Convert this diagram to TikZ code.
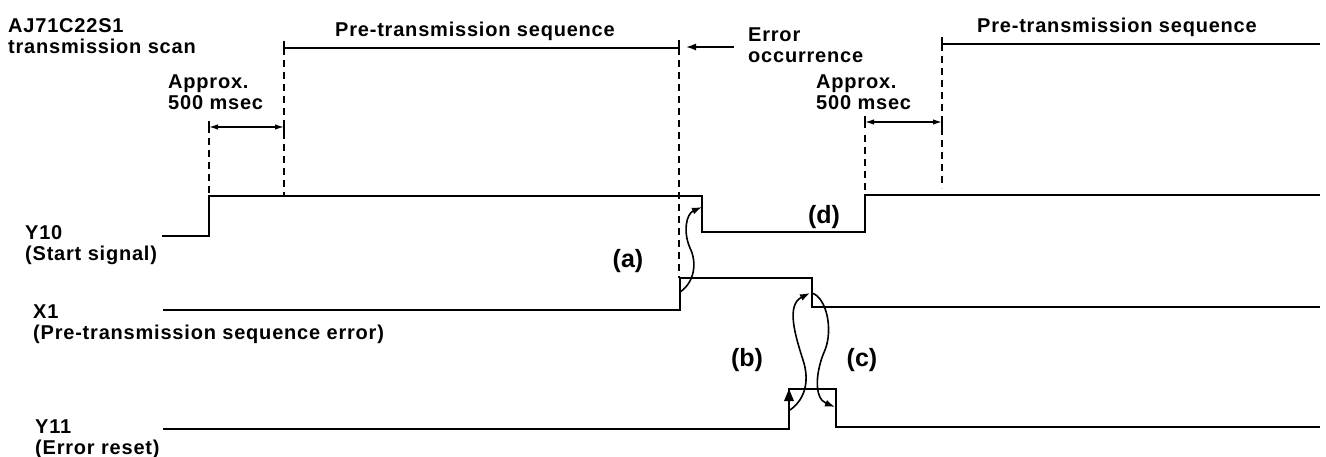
\documentclass[tikz,border=0pt]{standalone}
\usepackage{fontspec}
\setmainfont{Liberation Sans}
\newfontfamily\labfont{Liberation Sans}[LetterSpace=4]
\usetikzlibrary{arrows.meta}
\begin{document}
\begin{tikzpicture}[x=1pt,y=-1pt,
  sig/.style={line width=1.8pt},
  guide/.style={line width=1.5pt, dash pattern=on 7pt off 5pt},
  bar/.style={line width=1.4pt},
  lab/.style={inner sep=0pt, align=left, font=\labfont\bfseries\fontsize{20}{21}\selectfont},
  tag/.style={inner sep=0pt, font=\bfseries\fontsize{25}{27}\selectfont},
  tip/.style={-{Latex[length=10pt,width=7pt]}, line width=1.6pt},
  dim/.style={{Latex[length=9pt,width=5.5pt]}-{Latex[length=9pt,width=5.5pt]}, line width=1.4pt},
]
\useasboundingbox (0,0) rectangle (1326,457);

% signals
\draw[sig] (162,236) -- (209,236) -- (209,196) -- (702,196) -- (702,232) -- (865,232) -- (865,195) -- (1320,195);
\draw[sig] (163,310) -- (680,310) -- (680,278) -- (812,278) -- (812,307) -- (1320,307);
\draw[sig] (163,429) -- (789,429) -- (789,389) -- (836,389) -- (836,427) -- (1320,427);

% guide lines
\draw[guide] (209,138) -- (209,196);
\draw[guide] (284,48) -- (284,196);
\draw[guide] (679,48) -- (679,278);
\draw[guide] (865,135) -- (865,195);
\draw[guide] (942,44) -- (942,188);

% sequence bars
\draw[bar] (284,41) -- (284,55);
\draw[bar] (284,48) -- (679,48);
\draw[bar] (679,40) -- (679,55);
\draw[bar] (942,37) -- (942,51);
\draw[bar] (942,44) -- (1320,44);

% dimension arrows
\draw[bar] (209,121) -- (209,133);
\draw[bar] (284,121) -- (284,133);
\draw[dim] (209,127) -- (284,127);
\draw[bar] (865,116) -- (865,128);
\draw[bar] (942,116) -- (942,128);
\draw[dim] (865,122) -- (942,122);

% labels
\node[lab, anchor=north west] (scan) at (8,18) {AJ71C22S1\\transmission scan};
\node[lab, anchor=north] (seqL) at (475,22) {Pre-transmission sequence};
\node[lab, anchor=north] (seqR) at (1117,18) {Pre-transmission sequence};
\node[lab, anchor=north west] (err) at (748,28) {Error\\occurrence};
\node[lab, anchor=north west] (apL) at (168,75) {Approx.\\500 msec};
\node[lab, anchor=north west] (apR) at (816,75) {Approx.\\500 msec};
\node[lab, anchor=north west] (y10) at (25,225) {Y10\\(Start signal)};
\node[lab, anchor=north west] (x1) at (33,305) {X1\\(Pre-transmission sequence error)};
\node[lab, anchor=north west] (y11) at (35,420) {Y11\\(Error reset)};
\node[tag] (ta) at (628,261) {(a)};
\node[tag] (tb) at (747,360) {(b)};
\node[tag] (tc) at (862,360) {(c)};
\node[tag] (td) at (824,217) {(d)};

% error occurrence arrow
\coordinate (errA) at (734,47);
\coordinate (barEnd) at (686,47);
\draw[tip] (errA) -- (barEnd);

% edge coordinates
\coordinate (a0) at (680,292);
\coordinate (a1) at (702,207);
\coordinate (b0) at (790,410);
\coordinate (b1) at (810,293);
\coordinate (c0) at (812,293);
\coordinate (c1) at (835,407);

\draw[tip] (a0) .. controls (695,282) and (697,262) .. (690,248) .. controls (683,232) and (686,214) .. (a1);
\draw[tip] (b0) .. controls (807,398) and (809,378) .. (803,360) .. controls (795,335) and (786,305) .. (b1);
\draw[tip] (c0) .. controls (827,298) and (833,330) .. (825,350) .. controls (816,370) and (813,398) .. (c1);
\fill (789,389) -- (784,401) -- (794,401) -- cycle;
\end{tikzpicture}
\end{document}
